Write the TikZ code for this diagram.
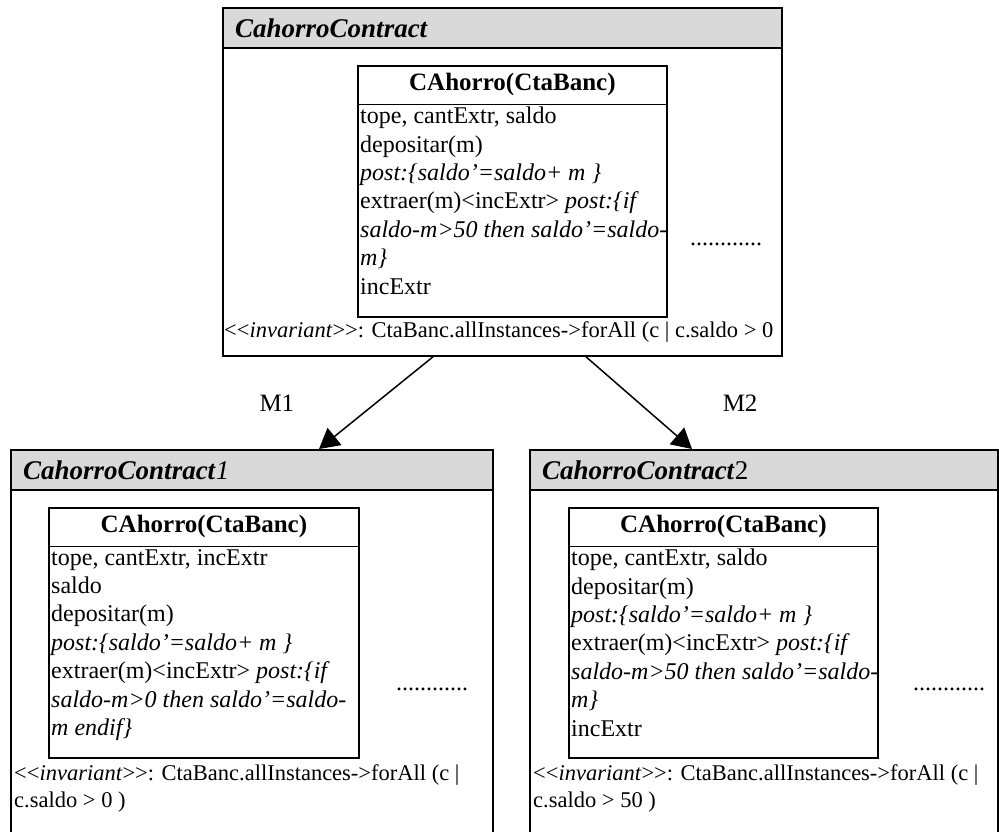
\documentclass[tikz,border=0pt]{standalone}
\usepackage{fontspec}
\setmainfont{Liberation Serif}[Ligatures=TeXOff]
\usepackage{tikz}
\usetikzlibrary{positioning,calc,arrows.meta}

\tikzset{
    contract/.style={draw=black, line width=1.8pt, anchor=north west, inner sep=0pt},
    headbar/.style={draw=black, line width=1.8pt, fill=gray!30, anchor=north west, inner sep=0pt, minimum height=40pt},
    headtext/.style={inner sep=0pt, anchor=west, font=\fontsize{27}{30}\selectfont},
    classbox/.style={draw=black, line width=1.8pt, anchor=north west, inner sep=0pt},
    classname/.style={inner sep=0pt, minimum height=39pt, font=\fontsize{25}{28}\selectfont\bfseries},
    body/.style={inner sep=0pt, align=left, font=\fontsize{24}{28.4}\selectfont},
    invtext/.style={inner sep=0pt, align=left, anchor=north west, font=\fontsize{22.5}{27}\selectfont},
    mapping/.style={-{Triangle[length=20pt, width=22pt]}, line width=1.5pt},
    maplabel/.style={inner sep=0pt, font=\fontsize{25}{28}\selectfont}
}

\begin{document}
\begin{tikzpicture}[x=1pt, y=-1pt]
    \useasboundingbox (0,0) rectangle (999,831);

    % General contract at the top
    \node[contract, minimum width=559pt, minimum height=348pt] (top) at (222,7) {};
    \node[headbar, minimum width=559pt] (topHead) at (top.north west) {};
    \node[headtext, right=13pt of topHead.west] {\textbf{\textit{CahorroContract}}};

    \node[classbox, minimum width=309pt, minimum height=251pt] (topClass) at (357,65) {};
    \node[classname, below=0pt of topClass.north] (topName) {CAhorro(CtaBanc)};
    \draw[line width=1.8pt] (topName.south -| topClass.west) -- (topName.south -| topClass.east);
    \node[body, anchor=north west] (topBody) at ($(topName.south -| topClass.west)+(3,2.5)$) {
        tope, cantExtr, saldo\\
        depositar(m)\\
        \textit{post:\{saldo’=saldo+ m \}}\\
        extraer(m)<incExtr> \textit{post:\{if}\\
        \textit{saldo-m>50 then saldo’=saldo-}\\
        \textit{m\}}\\
        incExtr
    };
    \node[body, anchor=base west] (topDots) at (690,245) {............};
    \node[invtext] (topInv) at ($(top.north west)+(2,314.5)$) {
        <<\textit{invariant}>>: CtaBanc.allInstances->forAll (c | c.saldo > 0
    };

    % Refined contract 1 (left)
    \node[contract, minimum width=482pt, minimum height=401pt] (left) at (10,449) {};
    \node[headbar, minimum width=482pt] (leftHead) at (left.north west) {};
    \node[headtext, right=13pt of leftHead.west] {\textbf{\textit{CahorroContract}}\textit{1}};

    \node[classbox, minimum width=310pt, minimum height=250pt] (leftClass) at (48,507) {};
    \node[classname, below=0pt of leftClass.north] (leftName) {CAhorro(CtaBanc)};
    \draw[line width=1.8pt] (leftName.south -| leftClass.west) -- (leftName.south -| leftClass.east);
    \node[body, anchor=north west] (leftBody) at ($(leftName.south -| leftClass.west)+(3,2.5)$) {
        tope, cantExtr, incExtr\\
        saldo\\
        depositar(m)\\
        \textit{post:\{saldo’=saldo+ m \}}\\
        extraer(m)<incExtr> \textit{post:\{if}\\
        \textit{saldo-m>0 then saldo’=saldo-}\\
        \textit{m endif\}}
    };
    \node[body, anchor=base west] (leftDots) at (396,690) {............};
    \node[invtext] (leftInv) at ($(left.north west)+(4,315.5)$) {
        <<\textit{invariant}>>: CtaBanc.allInstances->forAll (c |\\
        c.saldo > 0 )
    };

    % Refined contract 2 (right)
    \node[contract, minimum width=468pt, minimum height=401pt] (right) at (529,449) {};
    \node[headbar, minimum width=468pt] (rightHead) at (right.north west) {};
    \node[headtext, right=13pt of rightHead.west] {\textbf{\textit{CahorroContract}}2};

    \node[classbox, minimum width=309pt, minimum height=250pt] (rightClass) at (568,507) {};
    \node[classname, below=0pt of rightClass.north] (rightName) {CAhorro(CtaBanc)};
    \draw[line width=1.8pt] (rightName.south -| rightClass.west) -- (rightName.south -| rightClass.east);
    \node[body, anchor=north west] (rightBody) at ($(rightName.south -| rightClass.west)+(3,2.5)$) {
        tope, cantExtr, saldo\\
        depositar(m)\\
        \textit{post:\{saldo’=saldo+ m \}}\\
        extraer(m)<incExtr> \textit{post:\{if}\\
        \textit{saldo-m>50 then saldo’=saldo-}\\
        \textit{m\}}\\
        incExtr
    };
    \node[body, anchor=base west] (rightDots) at (913,690) {............};
    \node[invtext] (rightInv) at ($(right.north west)+(4,315.5)$) {
        <<\textit{invariant}>>: CtaBanc.allInstances->forAll (c |\\
        c.saldo > 50 )
    };

    % Mappings M1 and M2
    \draw[mapping] ($(top.south west)+(211,0)$) -- node[maplabel, left=81pt] {M1} ($(left.north west)+(309,0)$);
    \draw[mapping] ($(top.south west)+(364,0)$) -- node[maplabel, right=83pt] {M2} ($(right.north west)+(163,0)$);

\end{tikzpicture}
\end{document}
